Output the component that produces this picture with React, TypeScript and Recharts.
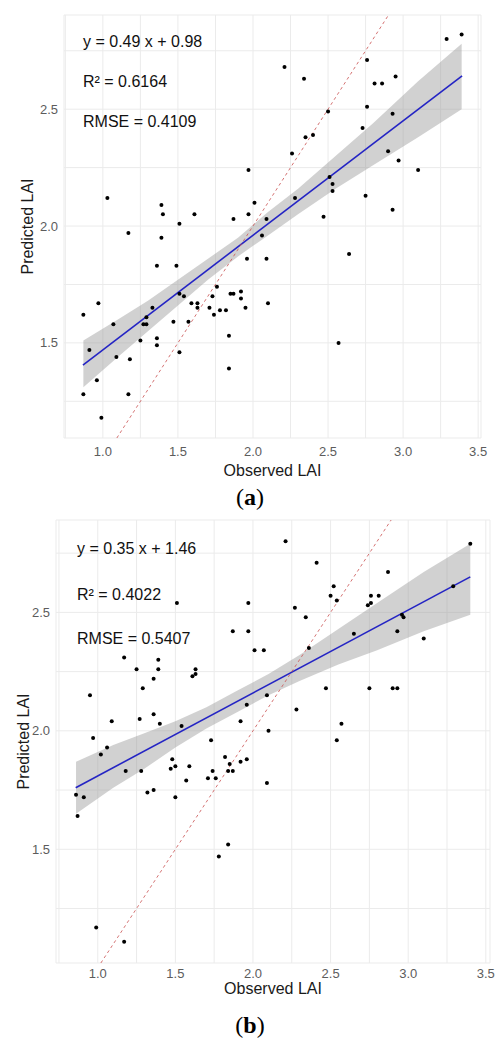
import { Area, CartesianGrid, ComposedChart, Line, Scatter, XAxis, YAxis } from 'recharts';

// (a) observed vs predicted LAI
const obsA = [
  1.03, 1.17, 1.39, 1.4, 1.39, 1.51, 1.61, 1.87, 1.97, 1.97,
  1.96, 3.29, 3.39, 2.21, 2.34, 2.76, 2.81, 2.86, 2.95, 2.76,
  2.5, 2.93, 2.73, 2.35, 2.4, 2.26, 2.9, 2.97, 3.1, 2.51,
  2.53, 2.53, 2.75, 2.28, 2.01, 2.47, 2.93, 2.09, 2.06, 2.09,
  2.64, 1.92, 1.92, 1.95, 2.1, 2.57, 1.36, 1.49, 0.87, 0.97,
  1.07, 0.91, 1.09, 1.18, 0.96, 0.87, 1.17, 0.99, 1.33, 1.29,
  1.27, 1.29, 1.25, 1.36, 1.36, 1.47, 1.51, 1.54, 1.51, 1.57,
  1.59, 1.63, 1.63, 1.71, 1.73, 1.76, 1.74, 1.78, 1.82, 1.85,
  1.87, 1.84, 1.84,
];
const predA = [
  2.12, 1.97, 2.09, 2.05, 1.95, 2.01, 2.05, 2.03, 2.24, 2.05,
  1.86, 2.8, 2.82, 2.68, 2.63, 2.71, 2.61, 2.61, 2.64, 2.51,
  2.49, 2.48, 2.42, 2.38, 2.39, 2.31, 2.32, 2.28, 2.24, 2.21,
  2.18, 2.15, 2.13, 2.12, 2.1, 2.04, 2.07, 2.03, 1.96, 1.86,
  1.88, 1.72, 1.69, 1.65, 1.67, 1.5, 1.83, 1.83, 1.62, 1.67,
  1.58, 1.47, 1.44, 1.43, 1.34, 1.28, 1.28, 1.18, 1.65, 1.61,
  1.58, 1.58, 1.51, 1.52, 1.49, 1.59, 1.71, 1.7, 1.46, 1.59,
  1.67, 1.67, 1.65, 1.65, 1.7, 1.74, 1.62, 1.64, 1.64, 1.71,
  1.71, 1.53, 1.39,
];
const fitXA = [0.867, 3.393];
const fitYA = [1.405, 2.643];
const bandXA = [0.87, 1.1, 1.3, 1.5, 1.7, 1.9, 2.1, 2.3, 2.55, 2.8, 3.1, 3.39];
const bandLoA = [1.31, 1.44, 1.55, 1.66, 1.77, 1.87, 1.96, 2.05, 2.16, 2.26, 2.38, 2.5];
const bandHiA = [1.51, 1.6, 1.68, 1.77, 1.86, 1.95, 2.06, 2.16, 2.3, 2.44, 2.62, 2.78];
const statsA = ['y = 0.49 x + 0.98', 'R² = 0.6164', 'RMSE = 0.4109'];

// (b)
const obsB = [
  1.51, 1.97, 1.87, 1.97, 1.17, 1.25, 1.39, 1.39, 1.36, 1.61,
  1.63, 1.63, 1.29, 0.95, 1.09, 1.27, 1.36, 1.4, 1.54, 1.92,
  1.73, 0.97, 1.06, 1.02, 1.48, 1.47, 1.5, 1.59, 1.82, 1.85,
  1.87, 1.84, 1.92, 1.96, 1.18, 1.28, 1.74, 1.96, 2.21, 3.4,
  2.41, 2.87, 2.52, 3.29, 2.5, 2.54, 2.76, 2.81, 2.74, 2.76,
  2.27, 2.34, 2.96, 2.97, 2.65, 2.93, 3.1, 2.01, 2.07, 2.36,
  2.47, 2.75, 2.9, 2.93, 2.09, 2.28, 2.57, 2.1, 2.54, 0.86,
  0.91, 0.87, 0.99, 1.17, 1.32, 1.36, 1.5, 1.57, 1.71, 1.76,
  1.78, 1.84, 2.09,
];
const predB = [
  2.54, 2.54, 2.42, 2.42, 2.31, 2.26, 2.3, 2.26, 2.22, 2.23,
  2.24, 2.26, 2.18, 2.15, 2.04, 2.05, 2.07, 2.03, 2.02, 2.04,
  1.96, 1.97, 1.93, 1.9, 1.88, 1.84, 1.85, 1.85, 1.89, 1.86,
  1.83, 1.83, 1.87, 1.88, 1.83, 1.83, 1.83, 2.11, 2.8, 2.79,
  2.71, 2.67, 2.61, 2.61, 2.57, 2.55, 2.57, 2.57, 2.53, 2.54,
  2.52, 2.48, 2.49, 2.48, 2.41, 2.42, 2.39, 2.34, 2.34, 2.35,
  2.18, 2.18, 2.18, 2.18, 2.15, 2.09, 2.03, 2.0, 1.96, 1.73,
  1.72, 1.64, 1.17, 1.11, 1.74, 1.75, 1.72, 1.79, 1.8, 1.8,
  1.47, 1.52, 1.78,
];
const fitXB = [0.858, 3.4];
const fitYB = [1.76, 2.65];
const bandXB = [0.86, 1.1, 1.3, 1.5, 1.7, 1.9, 2.1, 2.3, 2.55, 2.8, 3.1, 3.4];
const bandLoB = [1.65, 1.76, 1.84, 1.93, 2.01, 2.08, 2.15, 2.21, 2.28, 2.34, 2.42, 2.49];
const bandHiB = [1.87, 1.94, 1.99, 2.04, 2.1, 2.17, 2.24, 2.32, 2.43, 2.54, 2.67, 2.79];
const statsB = ['y = 0.35 x + 1.46', 'R² = 0.4022', 'RMSE = 0.5407'];

const xTicks = [0.75, 1, 1.25, 1.5, 1.75, 2, 2.25, 2.5, 2.75, 3, 3.25, 3.5];
const yTicks = [1.25, 1.5, 1.75, 2, 2.25, 2.5, 2.75];

const FONT = '"Liberation Sans", Arial, sans-serif';

const majorLabel = (v: number) =>
  Math.abs(v * 2 - Math.round(v * 2)) < 1e-6 ? v.toFixed(1) : '';

const Dot = (p: any) => <circle cx={p.cx} cy={p.cy} r={2} fill="#000" />;

type PanelProps = {
  obs: number[];
  pred: number[];
  fitX: number[];
  fitY: number[];
  bandX: number[];
  bandLo: number[];
  bandHi: number[];
  xDomain: [number, number];
  yDomain: [number, number];
  top: number;
  height: number;
  plotTop: number;
  right: number;
  yAxisWidth: number;
  xAxisHeight: number;
  tickMarginX: number;
  xTitleDy: number;
  yTitleX: number;
};

function Panel(p: PanelProps) {
  const points = p.obs.map((x, i) => ({ x, y: p.pred[i] }));
  const fit = p.fitX.map((x, i) => ({ x, y: p.fitY[i] }));
  const band = p.bandX.map((x, i) => ({ x, range: [p.bandLo[i], p.bandHi[i]] }));
  const oneToOne = [
    { x: p.yDomain[0], y: p.yDomain[0] },
    { x: p.yDomain[1], y: p.yDomain[1] },
  ];

  return (
    <div style={{ position: 'absolute', left: 0, top: p.top, width: 497, height: p.height }}>
      <ComposedChart
        width={497}
        height={p.height}
        margin={{ top: p.plotTop, right: p.right, bottom: 0, left: 0 }}
      >
        <CartesianGrid stroke="#ebebeb" strokeWidth={1} />
        <XAxis
          type="number"
          dataKey="x"
          domain={p.xDomain}
          ticks={xTicks}
          interval={0}
          allowDataOverflow
          axisLine={false}
          tickLine={false}
          tickSize={0}
          tickMargin={p.tickMarginX}
          height={p.xAxisHeight}
          tick={{ fill: '#5c5c5c', fontSize: 13 }}
          tickFormatter={majorLabel}
          label={(lp: any) => {
            const vb = lp.viewBox;
            return (
              <text
                x={vb.x + vb.width / 2}
                y={vb.y + p.xTitleDy}
                textAnchor="middle"
                dominantBaseline="central"
                fontSize={16}
                fill="#1a1a1a"
              >
                Observed LAI
              </text>
            );
          }}
        />
        <YAxis
          type="number"
          dataKey="y"
          domain={p.yDomain}
          ticks={yTicks}
          interval={0}
          allowDataOverflow
          axisLine={false}
          tickLine={false}
          tickSize={0}
          tickMargin={6}
          width={p.yAxisWidth}
          tick={{ fill: '#5c5c5c', fontSize: 13 }}
          tickFormatter={majorLabel}
          label={(lp: any) => {
            const vb = lp.viewBox;
            const cy = vb.y + vb.height / 2;
            return (
              <text
                transform={`translate(${p.yTitleX},${cy}) rotate(-90)`}
                textAnchor="middle"
                dominantBaseline="central"
                fontSize={16}
                fill="#1a1a1a"
              >
                Predicted LAI
              </text>
            );
          }}
        />
        <Scatter data={points} dataKey="y" shape={Dot} isAnimationActive={false} />
        <Area
          data={band}
          dataKey="range"
          type="linear"
          fill="#999999"
          fillOpacity={0.45}
          stroke="none"
          isAnimationActive={false}
        />
        <Line
          data={fit}
          dataKey="y"
          type="linear"
          stroke="#2424c4"
          strokeWidth={1.6}
          dot={false}
          isAnimationActive={false}
        />
        <Line
          data={oneToOne}
          dataKey="y"
          type="linear"
          stroke="#cc5a5a"
          strokeOpacity={0.85}
          strokeWidth={1}
          strokeDasharray="3 3"
          dot={false}
          isAnimationActive={false}
        />
      </ComposedChart>
    </div>
  );
}

function Stats({ lines, left, centers }: { lines: string[]; left: number; centers: number[] }) {
  return (
    <>
      {lines.map((t, i) => (
        <div
          key={t}
          style={{
            position: 'absolute',
            left,
            top: centers[i] - 9,
            fontSize: 16,
            lineHeight: '18px',
            color: '#111',
            whiteSpace: 'nowrap',
          }}
        >
          {t}
        </div>
      ))}
    </>
  );
}

function Caption({ text, cy }: { text: string; cy: number }) {
  return (
    <div
      style={{
        position: 'absolute',
        left: 0,
        width: 500,
        top: cy - 14,
        lineHeight: '28px',
        textAlign: 'center',
        fontFamily: '"Liberation Serif", "Times New Roman", serif',
        fontSize: 24,
        color: '#000',
      }}
    >
      (<b>{text}</b>)
    </div>
  );
}

export default function App() {
  return (
    <div style={{ position: 'absolute', left: 0, top: 0, width: 497, height: 1039, background: '#fff', fontFamily: FONT }}>
      <Panel
        obs={obsA}
        pred={predA}
        fitX={fitXA}
        fitY={fitYA}
        bandX={bandXA}
        bandLo={bandLoA}
        bandHi={bandHiA}
        xDomain={[0.741, 3.519]}
        yDomain={[1.093, 2.903]}
        top={0}
        height={490}
        plotTop={15}
        right={16}
        yAxisWidth={64}
        xAxisHeight={52}
        tickMarginX={9}
        xTitleDy={32}
        yTitleX={27}
      />
      <Stats lines={statsA} left={83} centers={[42, 82, 122]} />
      <Caption text="a" cy={497} />

      <Panel
        obs={obsB}
        pred={predB}
        fitX={fitXB}
        fitY={fitYB}
        bandX={bandXB}
        bandLo={bandLoB}
        bandHi={bandHiB}
        xDomain={[0.731, 3.527]}
        yDomain={[1.02, 2.89]}
        top={505}
        height={505}
        plotTop={15}
        right={7}
        yAxisWidth={56}
        xAxisHeight={47}
        tickMarginX={6}
        xTitleDy={25}
        yTitleX={23}
      />
      <Stats lines={statsB} left={77} centers={[549, 595, 639]} />
      <Caption text="b" cy={1025} />
    </div>
  );
}
